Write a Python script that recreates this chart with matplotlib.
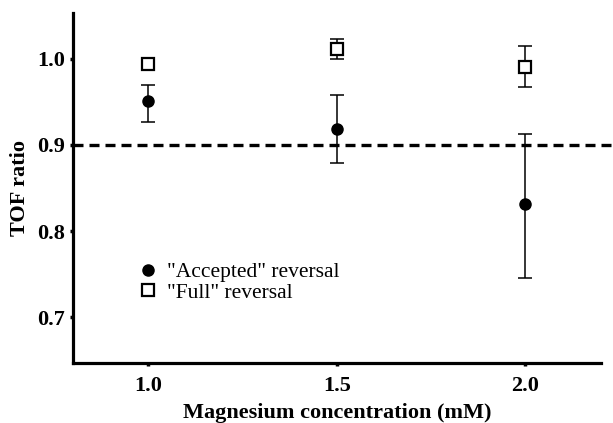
import numpy as np
import matplotlib.pyplot as plt

# ====================== DATA =============================================== #

mg_conc = [1.0, 1.5, 2.0]

accepted = [0.951, 0.918, 0.831]
accepted_lo = [0.024, 0.039, 0.085]
accepted_hi = [0.019, 0.040, 0.082]

full = [0.994, 1.011, 0.991]
full_lo = [0.0, 0.011, 0.024]   # no visible bar at 1.0 mM
full_hi = [0.0, 0.012, 0.024]

threshold = 0.9

# ============================== PLOTTING =================================== #

plt.rcParams['font.family'] = ['Liberation Serif', 'DejaVu Serif']

fig = plt.figure(figsize=(6.13, 4.23), dpi=100)
ax = fig.add_axes([0.119, 0.142, 0.861, 0.827])

err_kw = dict(fmt='none', ecolor='black', capsize=4.7, elinewidth=1.1,
              capthick=1.1, zorder=3)

# accepted reversal
ax.errorbar(mg_conc, accepted, yerr=[accepted_lo, accepted_hi], **err_kw)
h_acc, = ax.plot(mg_conc, accepted, 'o', color='black', markersize=8,
                 zorder=4)

# full reversal: bars only where there is a spread
has_err = [i for i in range(len(mg_conc)) if full_lo[i] > 0 or full_hi[i] > 0]
ax.errorbar([mg_conc[i] for i in has_err], [full[i] for i in has_err],
            yerr=[[full_lo[i] for i in has_err], [full_hi[i] for i in has_err]],
            **err_kw)
h_full, = ax.plot(mg_conc, full, 's', color='black', markerfacecolor='white',
                  markeredgewidth=1.6, markersize=8, zorder=4)

ax.plot([0.8, 2.25], [threshold, threshold], linestyle=(0, (3.0, 1.8)),
        color='black', linewidth=2.4, clip_on=False, zorder=2)

ax.set_xlim(0.8, 2.2)
ax.set_ylim(0.647, 1.053)
ax.set_xticks([1.0, 1.5, 2.0])
ax.set_yticks([0.7, 0.8, 0.9, 1.0])
ax.set_xticklabels(['1.0', '1.5', '2.0'], fontweight='bold', fontsize=16)
ax.set_yticklabels(['0.7', '0.8', '0.9', '1.0'], fontweight='bold', fontsize=16)

ax.set_xlabel('Magnesium concentration (mM)', fontweight='bold', fontsize=16,
              labelpad=5)
ax.set_ylabel('TOF ratio', fontweight='bold', fontsize=16, labelpad=5)

for side in ['top', 'right']:
    ax.spines[side].set_visible(False)
for side in ['left', 'bottom']:
    ax.spines[side].set_linewidth(2.3)
ax.tick_params(width=2.5, length=2.5, direction='out')
ax.tick_params(axis='x', pad=7)
ax.tick_params(axis='y', pad=3)

ax.legend([h_acc, h_full], ['"Accepted" reversal', '"Full" reversal'],
          loc='center left', bbox_to_anchor=(0.121, 0.23),
          frameon=False, fontsize=15.5, handletextpad=0.4, borderaxespad=0,
          borderpad=0, handlelength=1.0, labelspacing=0.0)

plt.savefig('out.png', dpi=100)
